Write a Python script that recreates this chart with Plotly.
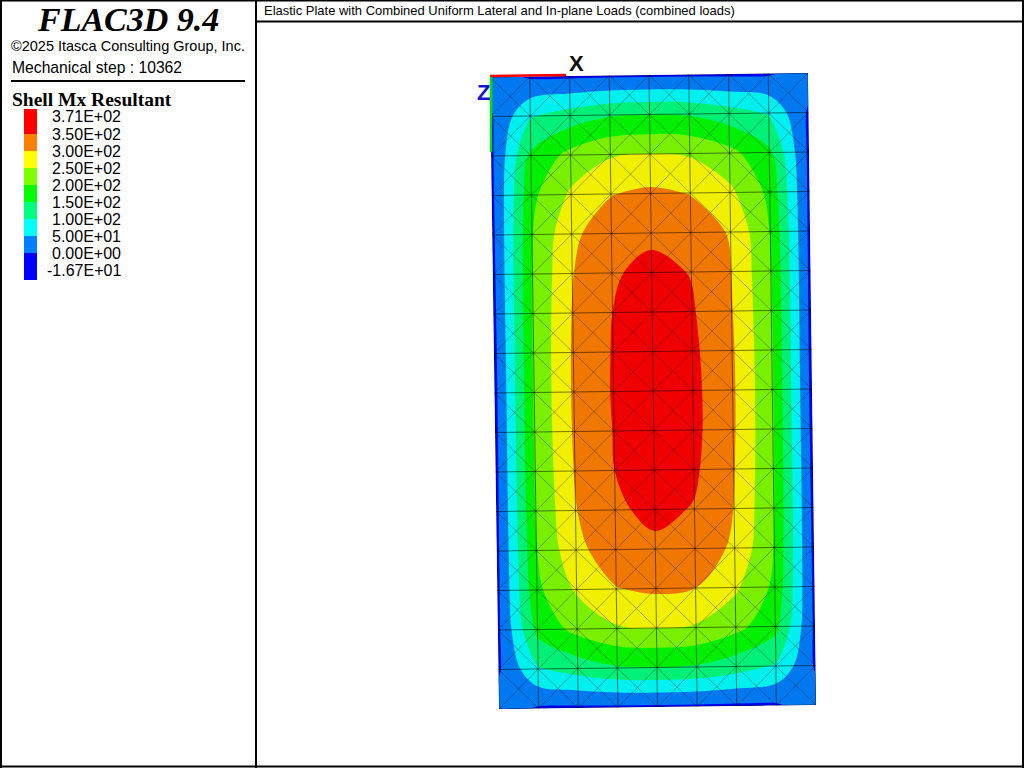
import plotly.graph_objects as go

# Shell Mx resultant at the mesh nodes (rows top to bottom, columns left to right)
node_a = [0, 1, 2, 3, 4, 5, 6, 7, 8]
node_b = [0, 1, 2, 3, 4, 5, 6, 7, 8, 9, 10, 11, 12, 13, 14, 15, 16]
mx_values = [
    [22, -6, -8, -8, -8, -8, -8, -6, 22],
    [-6, 95, 122, 145, 150, 145, 122, 95, -6],
    [-10, 160, 215, 245, 250, 245, 215, 160, -10],
    [-12, 188, 258, 298, 310, 298, 260, 188, -12],
    [-13, 198, 291, 325, 341, 327, 296, 198, -13],
    [-14, 203, 298, 345, 362, 348, 301, 203, -14],
    [-15, 205, 303, 350, 366, 355, 303, 205, -15],
    [-16, 206, 306, 353, 369, 360, 306, 206, -16],
    [-16, 206, 307, 354, 371, 363, 307, 206, -16],
    [-16, 206, 306, 352, 370, 363, 306, 206, -16],
    [-15, 205, 303, 350, 366, 358, 303, 205, -15],
    [-14, 203, 298, 342, 362, 347, 299, 203, -14],
    [-13, 198, 288, 326, 340, 328, 292, 198, -13],
    [-12, 190, 256, 298, 308, 300, 258, 190, -12],
    [-10, 165, 215, 245, 250, 245, 215, 165, -10],
    [-6, 95, 122, 145, 150, 145, 122, 95, -6],
    [22, -6, -8, -8, -8, -8, -8, -6, 22],
]

plate_corner_x = {"tl": 490.0, "tr": 808.0, "bl": 499.0, "br": 816.0}
plate_corner_y = {"tl": 77.0, "tr": 73.0, "bl": 709.0, "br": 705.0}

band_colors = ["#0000f0", "#0078f0", "#00f0f0", "#00f078", "#00f000", "#78f000", "#f0f000", "#f07800", "#f00000"]
legend_labels = ["3.71E+02", "3.50E+02", "3.00E+02", "2.50E+02", "2.00E+02",
                 "1.50E+02", "1.00E+02", "5.00E+01", "0.00E+00", "-1.67E+01"]
legend_colors = ["#ff0000", "#ff8000", "#ffff00", "#80ff00", "#00ff00", "#00ff80", "#00ffff", "#0080ff", "#0000ff"]
legend_edges = [109, 134, 151, 168, 185, 202, 219, 236, 253, 280]
legend_label_y = [116.5, 134, 151, 168, 185, 202, 219, 236, 253, 270]

na, nb = len(node_a), len(node_b)
def corner_mix(c, i, j):
    u, v = i / (na - 1), j / (nb - 1)
    return (c["tl"] * (1 - u) + c["tr"] * u) * (1 - v) + (c["bl"] * (1 - u) + c["br"] * u) * v

carpet_x = [[corner_mix(plate_corner_x, i, j) for i in range(na)] for j in range(nb)]
carpet_y = [[corner_mix(plate_corner_y, i, j) for i in range(na)] for j in range(nb)]

fig = go.Figure()
fig.add_trace(go.Carpet(
    carpet="plate", a=node_a, b=node_b, x=carpet_x, y=carpet_y,
    aaxis=dict(showticklabels="none", showgrid=False, showline=False, minorgridcount=0, tickmode="linear", dtick=1),
    baxis=dict(showticklabels="none", showgrid=False, showline=False, minorgridcount=0, tickmode="linear", dtick=1),
))
fig.add_trace(go.Contourcarpet(
    carpet="plate", a=node_a, b=node_b, z=mx_values,
    autocontour=False,
    contours=dict(start=0, end=350, size=50, coloring="fill", showlines=False),
    line=dict(width=0),
    colorscale=[[k / (len(band_colors) - 1), c] for k, c in enumerate(band_colors)],
    showscale=False,
))

# mesh: quad edges and both diagonals
a_max, b_max = node_a[-1], node_b[-1]
ga, gb = [], []
for a in node_a:
    ga += [a, a, None]; gb += [0, b_max, None]
for b in node_b:
    ga += [0, a_max, None]; gb += [b, b, None]
fig.add_trace(go.Scattercarpet(carpet="plate", a=ga, b=gb, mode="lines",
                               line=dict(color="rgba(0,0,0,0.5)", width=1), hoverinfo="skip", showlegend=False))
da, db = [], []
for s in range(-a_max, b_max + 1):      # a - b = -s
    a0 = max(0, -s); a1 = min(a_max, b_max - s)
    if a1 > a0:
        da += [a0, a1, None]; db += [a0 + s, a1 + s, None]
for s in range(1, a_max + b_max):       # a + b = s
    a0 = max(0, s - b_max); a1 = min(a_max, s)
    if a1 > a0:
        da += [a0, a1, None]; db += [s - a0, s - a1, None]
fig.add_trace(go.Scattercarpet(carpet="plate", a=da, b=db, mode="lines",
                               line=dict(color="rgba(0,0,0,0.5)", width=0.6), hoverinfo="skip", showlegend=False))

# legend swatches
fig.add_trace(go.Heatmap(
    x=[24, 37], y=legend_edges, z=[[k] for k in range(len(legend_colors))],
    colorscale=[[k / (len(legend_colors) - 1), c] for k, c in enumerate(legend_colors)],
    showscale=False, hoverinfo="skip",
))

# triad
fig.add_trace(go.Scatter(x=[490, 566], y=[76, 75], mode="lines", line=dict(color="#ff0000", width=2.5), hoverinfo="skip", showlegend=False))
fig.add_trace(go.Scatter(x=[491, 491], y=[77, 152], mode="lines", line=dict(color="#00e000", width=2.5), hoverinfo="skip", showlegend=False))

def txt(x, y, s, size, color="#000000", family="Liberation Sans", anchor="left", bold=False, italic=False):
    if bold: s = "<b>" + s + "</b>"
    if italic: s = "<i>" + s + "</i>"
    fig.add_annotation(x=x, y=y, xref="x", yref="y", text=s, showarrow=False, xanchor=anchor, yanchor="middle",
                       font=dict(family=family, size=size, color=color), borderpad=0, borderwidth=0)

txt(128, 19, "FLAC3D 9.4", 34, family="Liberation Serif", anchor="center", bold=True, italic=True)
txt(11, 46, "©2025 Itasca Consulting Group, Inc.", 14.5)
txt(12, 67, "Mechanical step : 10362", 15.7)
txt(12, 99, "Shell Mx Resultant", 19.5, family="Liberation Serif", bold=True)
for lab, ly in zip(legend_labels, legend_label_y):
    txt(121, ly, lab, 16, anchor="right")
txt(264, 10, "Elastic Plate with Combined Uniform Lateral and In-plane Loads (combined loads)", 12.97)
txt(569, 63, "X", 22, bold=True, color="#111111")
txt(477, 92, "Z", 22, bold=True, color="#1414d2")

def rule(x0, y0, x1, y1, w=2):
    fig.add_shape(type="line", xref="x", yref="y", x0=x0, y0=y0, x1=x1, y1=y1, line=dict(color="#000000", width=w), layer="above")

rule(1, 0, 1, 768); rule(0, 0.5, 1024, 0.5); rule(1023, 0, 1023, 768); rule(0, 766.5, 1024, 766.5)
rule(256, 0, 256, 768); rule(256, 21.5, 1024, 21.5); rule(11, 81, 245, 81)

fig.update_layout(
    width=1024, height=768, margin=dict(l=0, r=0, t=0, b=0), autosize=False,
    paper_bgcolor="#ffffff", plot_bgcolor="#ffffff", showlegend=False,
    xaxis=dict(range=[0, 1024], visible=False, fixedrange=True, showgrid=False, zeroline=False),
    yaxis=dict(range=[768, 0], visible=False, fixedrange=True, showgrid=False, zeroline=False),
)
fig.write_html("out.html", config=dict(displayModeBar=False),
               post_script="document.body.style.margin='0';document.body.style.overflow='hidden';")
